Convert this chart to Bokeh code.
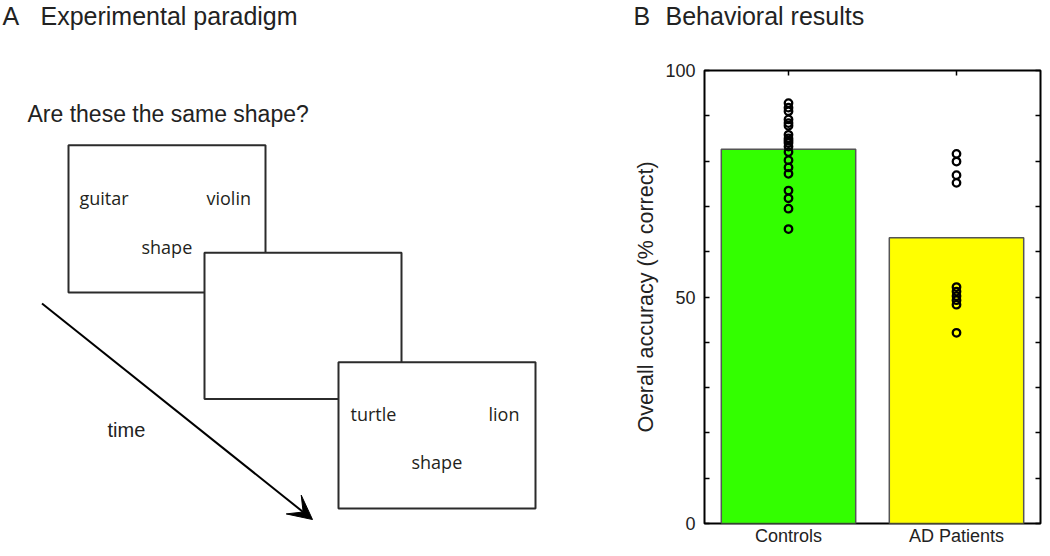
from bokeh.plotting import figure
from bokeh.layouts import row, column
from bokeh.models import (Range1d, FactorRange, FixedTicker, LinearAxis, CategoricalAxis,
                          Arrow, VeeHead, CustomLabelingPolicy)
from bokeh.core.properties import value
from bokeh.embed import file_html
from bokeh.resources import INLINE

# ---------------- data ----------------
groups = ["Controls", "AD Patients"]
mean_accuracy = [82.6, 63.1]
controls_scores = [92.8, 91.8, 91.0, 89.2, 88.4, 87.8, 85.8, 85.0, 84.5, 84.0,
                   83.2, 82.0, 80.2, 78.6, 77.2, 73.5, 71.8, 69.5, 65.0]
patients_scores = [81.6, 79.9, 76.9, 75.2, 52.2, 51.2, 50.2, 49.3, 48.3, 42.1]
bar_colors = ["#33ff00", "#ffff00"]
y_major_ticks = [0, 50, 100]
y_minor_ticks = [10, 20, 30, 40, 60, 70, 80, 90]
y_label = "Overall accuracy (% correct)"

panel_letters = ["A", "B"]
panel_titles = ["Experimental paradigm", "Behavioral results"]
question = "Are these the same shape?"
trial1_words = ["guitar", "violin", "shape"]
trial3_words = ["turtle", "lion", "shape"]
time_label = "time"

HELV = "Liberation Sans"
WORD_FONT = "Open Sans"
TXT = "#222222"

W = 1042
H = 548
HEAD = 31          # height of the heading strip
FRAME_TOP = 70     # page y of chart frame top
FRAME_BOTTOM = 525 # page y of chart frame bottom
BASE_SHIFT = 0.33  # baseline correction (em) for text glyphs


def base(y, size):
    """text glyph y so that the alphabetic baseline lands on y"""
    return y - BASE_SHIFT * size


# ---------------- heading strip with the panel titles ----------------
pt = figure(width=W, height=HEAD, x_range=Range1d(0, W), y_range=Range1d(HEAD, 0),
            x_axis_type=None, y_axis_type=None, toolbar_location=None,
            output_backend="svg", min_border=0)
pt.outline_line_color = None
pt.grid.visible = False
pt.text(x=[2, 633], y=[base(23.5, 25)] * 2, text=panel_letters, text_font=value(HELV),
        text_font_size="25px", text_color=TXT, text_baseline="alphabetic")
pt.text(x=[40, 665], y=[base(23.5, 25)] * 2, text=panel_titles, text_font=value(HELV),
        text_font_size="25px", text_color=TXT, text_baseline="alphabetic")

# ---------------- panel A (diagram, page-pixel coordinates) ----------------
pa = figure(width=600, height=H - HEAD, x_range=Range1d(0, 600),
            y_range=Range1d(FRAME_BOTTOM, FRAME_TOP),
            x_axis_type=None, y_axis_type=None, toolbar_location=None,
            output_backend="svg", min_border_left=0, min_border_right=0,
            min_border_top=FRAME_TOP - HEAD, min_border_bottom=H - FRAME_BOTTOM)
pa.outline_line_color = None
pa.grid.visible = False

# screens (left, right, top, bottom)
box_l = [68, 204, 338]
box_r = [265, 401, 535]
box_t = [145, 253, 363]
box_b = [293, 400, 510]
for l, r, t, b in zip(box_l, box_r, box_t, box_b):
    pa.quad(left=[l], right=[r], top=[t], bottom=[b], fill_color="white",
            line_color="#2b2b2b", line_width=2)

pa.text(x=[79, 206, 141], y=[base(204, 18), base(204, 18), base(253, 18)], text=trial1_words,
        text_font=value(WORD_FONT), text_font_size="18px", text_color="#231f20",
        text_baseline="alphabetic", text_align="left")
pa.text(x=[350, 488, 411], y=[base(421, 18), base(421, 18), base(469, 18)], text=trial3_words,
        text_font=value(WORD_FONT), text_font_size="18px", text_color="#231f20",
        text_baseline="alphabetic", text_align="left")

pa.text(x=[27], y=[base(121, 23)], text=[question], text_font=value(HELV),
        text_font_size="23px", text_color=TXT, text_baseline="alphabetic")
pa.text(x=[107], y=[base(437.5, 20)], text=[time_label], text_font=value(HELV),
        text_font_size="20px", text_color=TXT, text_baseline="alphabetic")

pa.add_layout(Arrow(end=VeeHead(size=24, fill_color="black", line_color="black"),
                    x_start=41.5, y_start=304, x_end=312, y_end=521,
                    line_width=2, line_color="black"))

# ---------------- panel B (bar chart) ----------------
pb = figure(width=W - 600, height=H - HEAD, x_range=FactorRange(factors=groups),
            y_range=Range1d(0, 100), toolbar_location=None, output_backend="svg",
            min_border_left=104, min_border_right=2, min_border_top=FRAME_TOP - HEAD,
            min_border_bottom=H - FRAME_BOTTOM)
pb.grid.visible = False
pb.outline_line_color = "black"
pb.outline_line_width = 2
pb.outline_line_alpha = 1

pb.vbar(x=groups, top=mean_accuracy, width=0.8, fill_color=bar_colors,
        line_color="#555555", line_width=1.5)

dot_x = [groups[0]] * len(controls_scores) + [groups[1]] * len(patients_scores)
dot_y = controls_scores + patients_scores
pb.scatter(x=dot_x, y=dot_y, marker="circle", size=7.5, fill_color=None,
           line_color="black", line_width=2.3)

ticker = FixedTicker(ticks=y_major_ticks, minor_ticks=y_minor_ticks)
no_labels = CustomLabelingPolicy(code="for (const i of [...indices]) { indices.unset(i) } return indices")

ya = pb.yaxis[0]
ya.ticker = ticker
ya.axis_line_color = None
ya.major_tick_in = 5
ya.major_tick_out = 0
ya.minor_tick_in = 5
ya.minor_tick_out = 0
ya.major_tick_line_width = 1.5
ya.minor_tick_line_width = 1.5
ya.major_label_standoff = 9
ya.major_label_text_font = HELV
ya.major_label_text_font_size = "18px"
ya.major_label_text_color = TXT
ya.axis_label = y_label
ya.axis_label_text_font = HELV
ya.axis_label_text_font_style = "normal"
ya.axis_label_text_font_size = "21.5px"
ya.axis_label_text_color = TXT
ya.axis_label_standoff = 4

xa = pb.xaxis[0]
xa.axis_line_color = None
xa.major_tick_in = 0
xa.major_tick_out = 0
xa.major_label_standoff = 2
xa.major_label_text_font = HELV
xa.major_label_text_font_size = "18px"
xa.major_label_text_color = TXT

ra = LinearAxis(ticker=ticker, axis_line_color=None, major_tick_in=5, major_tick_out=0,
                minor_tick_in=5, minor_tick_out=0, major_tick_line_width=1.5,
                minor_tick_line_width=1.5, major_label_text_font_size="0px",
                major_label_standoff=0, major_label_policy=no_labels)
pb.add_layout(ra, "right")

ta = CategoricalAxis(axis_line_color=None, major_tick_in=5, major_tick_out=0,
                     major_tick_line_width=1.5, major_label_text_font_size="0px",
                     major_label_standoff=0, major_label_policy=no_labels)
pb.add_layout(ta, "above")

layout = column(pt, row(pa, pb))
open("out.html", "w").write(file_html(layout, INLINE))
